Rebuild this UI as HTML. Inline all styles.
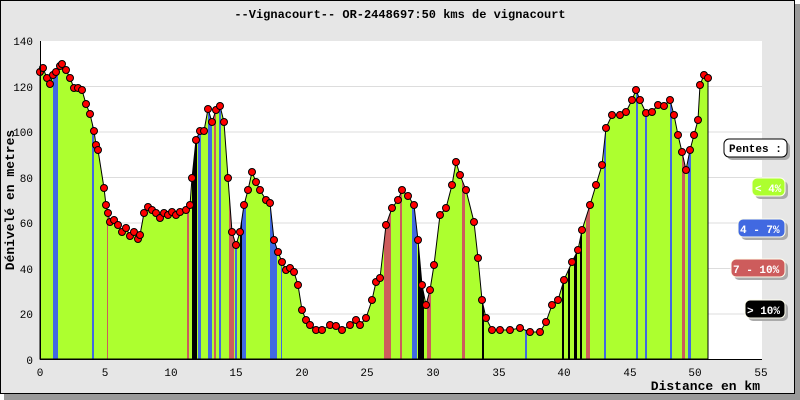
<!DOCTYPE html>
<html><head><meta charset="utf-8"><style>
html,body{margin:0;padding:0;background:#fff}
svg{display:block}
text{font-family:"Liberation Mono","DejaVu Sans Mono",monospace}
</style></head><body>
<svg width="800" height="400" xmlns="http://www.w3.org/2000/svg">
<rect x="4" y="4" width="796" height="396" fill="#999"/>
<rect x="0.5" y="0.5" width="794" height="393" fill="#e6e6e6" stroke="#000"/>
<text x="400" y="18" font-size="12" font-weight="bold" text-anchor="middle">--Vignacourt-- OR-2448697:50 kms de vignacourt</text>
<rect x="40" y="41" width="722" height="318" fill="#fff"/>
<g stroke="#ddd" stroke-width="1">
<line x1="40" x2="762" y1="86.5" y2="86.5"/><line x1="40" x2="762" y1="132" y2="132"/>
<line x1="40" x2="762" y1="177.5" y2="177.5"/><line x1="40" x2="762" y1="223" y2="223"/>
<line x1="40" x2="762" y1="268.5" y2="268.5"/><line x1="40" x2="762" y1="314" y2="314"/>
</g>
<defs><clipPath id="c"><polygon id="pp" points="40,359 40,72 43,68 47,78 50,84 53,75 56,72 60,66 62,64 66,70 70,78 74,88 78,88 82,90 86,104 90,114 94,131 96,145 98,150 104,188 106,205 108,213 110,222 114,220 118,225 122,232 126,228 130,236 134,232 138,239 140,235 144,213 148,207 152,210 156,213 160,218 164,213 168,215 172,212 176,215 180,212 186,210 190,205 192,178 196,140 200,131 204,131 208,109 212,122 216,110 220,106 224,122 228,178 232,232 236,245 240,232 244,205 248,190 252,172 256,182 260,190 266,200 270,203 274,240 278,252 282,262 286,270 290,268 294,272 298,285 302,310 306,320 310,325 316,330 322,330 330,325 336,326 342,330 350,325 356,320 360,325 366,318 372,300 376,282 380,278 386,225 392,208 398,200 402,190 408,196 414,205 418,240 422,285 426,305 430,290 434,265 440,215 446,208 452,185 456,162 460,175 466,190 474,222 478,258 482,300 486,318 492,330 500,330 510,330 520,328 530,332 540,332 546,322 552,305 558,300 564,280 572,262 578,250 582,230 590,205 596,185 602,165 606,128 612,115 620,115 626,112 632,100 636,90 640,100 646,113 652,112 658,105 664,106 670,100 674,115 678,135 682,152 686,170 690,150 694,135 698,120 700,85 704,75 708,78 708,359"/></clipPath></defs>
<g clip-path="url(#c)">
<rect x="40" y="41" width="670" height="318" fill="#adff2f"/>
<g fill="#4169e1">
<rect x="53" y="41" width="5" height="318"/><rect x="92" y="41" width="2" height="318"/><rect x="198" y="41" width="3" height="318"/>
<rect x="208" y="41" width="4" height="318"/><rect x="219" y="41" width="2" height="318"/><rect x="235" y="41" width="2" height="318"/>
<rect x="242" y="41" width="4" height="318"/><rect x="270" y="41" width="7" height="318"/><rect x="281" y="41" width="1" height="318"/>
<rect x="412" y="41" width="5" height="318"/><rect x="525" y="41" width="2" height="318"/><rect x="604" y="41" width="2" height="318"/>
<rect x="636" y="41" width="2" height="318"/><rect x="645" y="41" width="2" height="318"/><rect x="670" y="41" width="2" height="318"/><rect x="688" y="41" width="3" height="318"/>
</g>
<g fill="#cd5c5c">
<rect x="107" y="41" width="1" height="318"/><rect x="187" y="41" width="2" height="318"/><rect x="214" y="41" width="2" height="318"/>
<rect x="229" y="41" width="5" height="318"/><rect x="384" y="41" width="7" height="318"/><rect x="400" y="41" width="2" height="318"/>
<rect x="427" y="41" width="4" height="318"/><rect x="462" y="41" width="3" height="318"/><rect x="586" y="41" width="4" height="318"/><rect x="682" y="41" width="3" height="318"/>
</g>
<g fill="#000">
<rect x="192" y="41" width="5" height="318"/><rect x="240" y="41" width="2" height="318"/><rect x="418" y="41" width="6" height="318"/>
<rect x="482" y="41" width="2" height="318"/><rect x="562" y="41" width="2" height="318"/><rect x="568" y="41" width="2" height="318"/><rect x="574" y="41" width="3" height="318"/><rect x="580" y="41" width="2" height="318"/>
</g>
</g>
<use href="#pp" fill="none" stroke="#000" stroke-width="1"/>
<g id="dots" fill="#f00" stroke="#000" stroke-width="1"></g>
<line x1="40.5" y1="41" x2="40.5" y2="359" stroke="#000"/>
<line x1="40" y1="359.5" x2="762" y2="359.5" stroke="#000"/>
<g font-size="11" text-anchor="end">
<text x="33" y="45">140</text><text x="33" y="91">120</text><text x="33" y="136">100</text><text x="33" y="182">80</text>
<text x="33" y="227">60</text><text x="33" y="273">40</text><text x="33" y="318">20</text><text x="33" y="364">0</text>
</g>
<g font-size="11" text-anchor="middle">
<text x="40" y="376">0</text><text x="105" y="376">5</text><text x="171" y="376">10</text><text x="236" y="376">15</text>
<text x="302" y="376">20</text><text x="367" y="376">25</text><text x="433" y="376">30</text><text x="499" y="376">35</text>
<text x="564" y="376">40</text><text x="630" y="376">45</text><text x="695" y="376">50</text><text x="761" y="376">55</text>
</g>
<text x="760" y="390" font-size="13" font-weight="bold" text-anchor="end">Distance en km</text>
<text transform="translate(14,200) rotate(-90)" font-size="13" font-weight="bold" text-anchor="middle">Dénivelé en metres</text>
<g font-size="11" font-weight="bold">
<rect x="727" y="142" width="63" height="18" rx="5" fill="#aaa"/><rect x="724" y="139" width="63" height="18" rx="5" fill="#fff" stroke="#000"/><text x="729" y="152">Pentes :</text>
<rect x="755" y="181" width="33" height="18" rx="5" fill="#aaa"/><rect x="752" y="178" width="33" height="18" rx="5" fill="#adff2f" stroke="#ffe"/><text x="755" y="192" fill="#fff">&lt; 4%</text>
<rect x="741" y="222" width="47" height="18" rx="5" fill="#aaa"/><rect x="738" y="219" width="47" height="18" rx="5" fill="#4169e1" stroke="#ffe"/><text x="740" y="233" fill="#fff">4 - 7%</text>
<rect x="734" y="262" width="54" height="18" rx="5" fill="#aaa"/><rect x="731" y="259" width="54" height="18" rx="5" fill="#cd5c5c" stroke="#ffe"/><text x="733" y="273" fill="#fff">7 - 10%</text>
<rect x="748" y="303" width="40" height="18" rx="5" fill="#aaa"/><rect x="745" y="300" width="40" height="18" rx="5" fill="#000" stroke="#ffe"/><text x="747" y="314" fill="#fff">&gt; 10%</text>
</g>
<script>
var p=document.getElementById('pp').getAttribute('points').trim().split(/\s+/).slice(1,-1);
var g=document.getElementById('dots');
p.forEach(function(s){var a=s.split(',');var c=document.createElementNS('http://www.w3.org/2000/svg','circle');c.setAttribute('cx',a[0]);c.setAttribute('cy',a[1]);c.setAttribute('r','3.5');g.appendChild(c);});
</script>
</svg>
</body></html>
